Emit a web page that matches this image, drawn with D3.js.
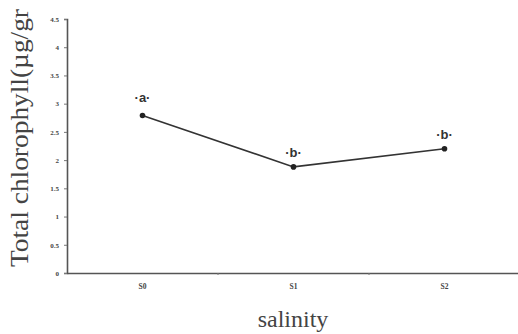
<!DOCTYPE html>
<html>
<head>
<meta charset="utf-8">
<script src="https://cdn.jsdelivr.net/npm/d3@7"></script>
<style>
  body { margin: 0; background: #fff; }
</style>
</head>
<body>
<svg id="chart" width="518" height="334"></svg>
<script>
const categories = ["S0", "S1", "S2"];
const chlorophyll = [2.79, 1.88, 2.2];
const letters = ["a", "b", "b"];
const yTicks = [0, 0.5, 1, 1.5, 2, 2.5, 3, 3.5, 4, 4.5];

const svg = d3.select("#chart");
const mLeft = 67, mRight = 520, mTop = 19, mBottom = 273;

const x = d3.scaleBand().domain(categories).range([mLeft, mRight]);
const y = d3.scaleLinear().domain([0, 4.5]).range([mBottom, mTop]);

// y axis
const yAxis = svg.append("g")
  .attr("transform", "translate(" + mLeft + ",0)")
  .call(d3.axisLeft(y).tickValues(yTicks).tickSize(3).tickPadding(5)
    .tickFormat(d => d3.format("")(d)));
yAxis.select(".domain").attr("stroke", "#555").attr("stroke-width", 1.6);
yAxis.selectAll(".tick line").attr("stroke", "#777");
yAxis.selectAll("text")
  .attr("font-family", "Liberation Serif")
  .attr("font-size", 7)
  .attr("font-weight", "bold")
  .attr("fill", "#444");

// x axis
const xAxis = svg.append("g")
  .attr("transform", "translate(0," + mBottom + ")")
  .call(d3.axisBottom(x).tickSize(0).tickPadding(11));
xAxis.select(".domain").attr("stroke", "#555").attr("stroke-width", 1.6);
xAxis.selectAll("text")
  .attr("font-family", "Liberation Serif")
  .attr("font-size", 7.5)
  .attr("font-weight", "bold")
  .attr("fill", "#444");
// small marks between categories
xAxis.selectAll(".sep")
  .data(categories.slice(1))
  .enter().append("line")
  .attr("x1", d => x(d)).attr("x2", d => x(d))
  .attr("y1", 0).attr("y2", 2)
  .attr("stroke", "#777");

const cx = d => x(d) + x.bandwidth() / 2;
const pts = categories.map((c, i) => ({c: c, v: chlorophyll[i], l: letters[i]}));

// line
svg.append("path")
  .datum(pts)
  .attr("fill", "none")
  .attr("stroke", "#333")
  .attr("stroke-width", 1.6)
  .attr("d", d3.line().x(d => cx(d.c)).y(d => y(d.v)));

svg.selectAll(".pt")
  .data(pts)
  .enter().append("circle")
  .attr("cx", d => cx(d.c))
  .attr("cy", d => y(d.v))
  .attr("r", 2.8)
  .attr("fill", "#222");

// letters
svg.selectAll(".lbl")
  .data(pts)
  .enter().append("text")
  .attr("x", d => cx(d.c))
  .attr("y", (d, i) => y(d.v) - (i === 0 ? 14 : 10))
  .attr("text-anchor", "middle")
  .attr("font-family", "Liberation Sans")
  .attr("font-size", 13)
  .attr("font-weight", "bold")
  .attr("fill", "#333")
  .text(d => "\u00b7" + d.l + "\u00b7");

// axis titles
svg.append("text")
  .attr("x", 293)
  .attr("y", 327)
  .attr("text-anchor", "middle")
  .attr("font-family", "Liberation Serif")
  .attr("font-size", 24)
  .attr("fill", "#444")
  .text("salinity");

svg.append("text")
  .attr("transform", "translate(28,138) rotate(-90)")
  .attr("text-anchor", "middle")
  .attr("font-family", "Liberation Serif")
  .attr("font-size", 26)
  .attr("fill", "#444")
  .attr("textLength", 258)
  .attr("lengthAdjust", "spacingAndGlyphs")
  .text("Total chlorophyll(µg/gr");
</script>
</body>
</html>
